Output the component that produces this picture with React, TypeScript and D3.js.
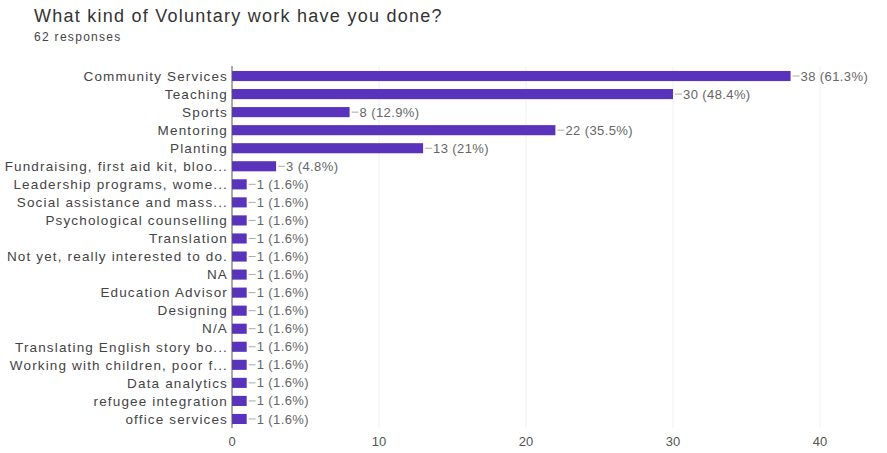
import React from "react";
import * as d3 from "d3";

const categories = [
  "Community Services",
  "Teaching",
  "Sports",
  "Mentoring",
  "Planting",
  "Fundraising, first aid kit, bloo...",
  "Leadership programs, wome...",
  "Social assistance and mass...",
  "Psychological counselling",
  "Translation",
  "Not yet, really interested to do.",
  "NA",
  "Education Advisor",
  "Designing",
  "N/A",
  "Translating English story bo...",
  "Working with children, poor f...",
  "Data analytics",
  "refugee integration",
  "office services",
];
const counts = [38, 30, 8, 22, 13, 3, 1, 1, 1, 1, 1, 1, 1, 1, 1, 1, 1, 1, 1, 1];
const percentLabels = ["61.3%", "48.4%", "12.9%", "35.5%", "21%", "4.8%", "1.6%", "1.6%", "1.6%", "1.6%", "1.6%", "1.6%", "1.6%", "1.6%", "1.6%", "1.6%", "1.6%", "1.6%", "1.6%", "1.6%"];
const xTicks = [0, 10, 20, 30, 40];
const title = "What kind of Voluntary work have you done?";
const subtitle = "62 responses";

export default function App() {
  const W = 887, H = 453;
  const x = d3.scaleLinear().domain([0, 40]).range([232, 820]);
  const y = d3.scaleBand<string>().domain(categories).range([67, 428]).paddingInner(0.44).paddingOuter(0.22);
  const font = "'Liberation Sans', Arial, sans-serif";
  return (
    <svg width={W} height={H} style={{ position: "absolute", left: 0, top: 0, background: "#fff" }} fontFamily={font}>
      <text x={34} y={22} fontSize={18} letterSpacing={1.25} fill="#333">{title}</text>
      <text x={34} y={41} fontSize={12} letterSpacing={1.3} fill="#444">{subtitle}</text>
      {xTicks.filter(t => t > 0).map(t => (
        <line key={t} x1={x(t)} x2={x(t)} y1={66} y2={428} stroke="#f0f0f0" strokeWidth={1} />
      ))}
      {categories.map((c, i) => {
        const yy = y(c)!;
        const bh = y.bandwidth();
        const cy = yy + bh / 2;
        const xe = x(counts[i]);
        return (
          <g key={i}>
            <rect x={x(0)} y={yy} width={xe - x(0)} height={bh} fill="#5a33bc" />
            <text x={228} y={cy} dy="0.35em" textAnchor="end" fontSize={13.5} letterSpacing={1.15} fill="#444">{c}</text>
            <line x1={xe + 2} x2={xe + 9} y1={cy} y2={cy} stroke="#aaa" strokeWidth={1} />
            <text x={xe + 10} y={cy} dy="0.35em" fontSize={13} letterSpacing={0.4} fill="#666">{`${counts[i]} (${percentLabels[i]})`}</text>
          </g>
        );
      })}
      <line x1={x(0)} x2={x(0)} y1={66} y2={428} stroke="#555" strokeWidth={1} />
      {xTicks.map(t => (
        <text key={t} x={x(t)} y={446} textAnchor="middle" fontSize={13} fill="#555">{t}</text>
      ))}
    </svg>
  );
}
